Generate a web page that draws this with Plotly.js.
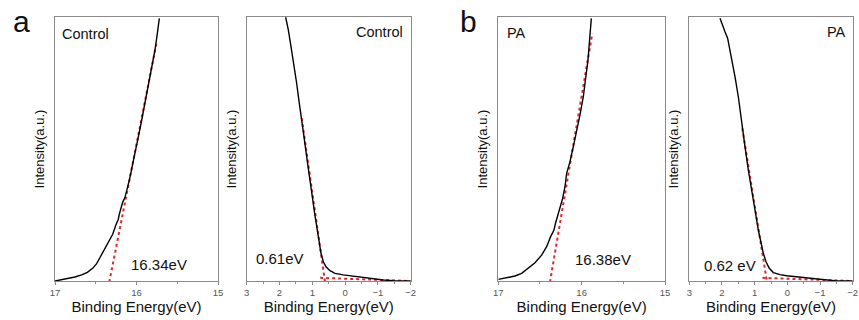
<!DOCTYPE html>
<html><head><meta charset="utf-8">
<script src="https://cdn.plot.ly/plotly-3.0.1.min.js"></script>
<style>body{margin:0;background:#fff}#c{width:859px;height:320px}</style>
</head><body><div id="c"></div>
<script>
// Panel a-left: secondary electron cutoff (Control)
const ctlCutX = [17.0, 16.918, 16.836, 16.755, 16.673, 16.603, 16.538, 16.489, 16.448, 16.399, 16.346, 16.292, 16.252, 16.223, 16.211, 16.194, 16.170, 16.141, 16.112, 16.084, 16.051, 16.014, 15.978, 15.937, 15.892, 15.847, 15.810, 15.773, 15.744, 15.720];
const ctlCutY = [0.0, 0.005, 0.010, 0.015, 0.023, 0.033, 0.048, 0.066, 0.089, 0.117, 0.146, 0.177, 0.213, 0.234, 0.253, 0.273, 0.298, 0.317, 0.349, 0.387, 0.437, 0.488, 0.545, 0.608, 0.678, 0.754, 0.817, 0.875, 0.938, 0.995];
const ctlCutFitX = [16.334, 15.752];
const ctlCutFitY = [-0.004, 0.906];
// Panel a-right: valence band (Control)
const ctlVbX = [1.812, 1.731, 1.649, 1.558, 1.477, 1.396, 1.324, 1.253, 1.172, 1.091, 1.009, 0.928, 0.847, 0.786, 0.735, 0.664, 0.582, 0.460, 0.308, 0.054, -0.251, -0.556, -0.861, -1.166, -1.470, -1.999];
const ctlVbY = [0.999, 0.951, 0.888, 0.818, 0.749, 0.673, 0.616, 0.547, 0.471, 0.395, 0.319, 0.256, 0.193, 0.143, 0.105, 0.073, 0.054, 0.039, 0.029, 0.023, 0.018, 0.013, 0.009, 0.004, 0.001, 0.0];
const ctlVbFitX = [1.323, 0.61];
const ctlVbFitY = [0.617, -0.006];
const ctlVbBaseX = [0.76, -2.0];
const ctlVbBaseY = [0.012, 0.0];
// Panel b-left: secondary electron cutoff (PA)
const paCutX = [17.0, 16.900, 16.800, 16.720, 16.640, 16.560, 16.480, 16.420, 16.372, 16.332, 16.316, 16.300, 16.268, 16.228, 16.200, 16.180, 16.140, 16.100, 16.060, 16.020, 15.980, 15.948, 15.924, 15.908, 15.896, 15.884];
const paCutY = [0.006, 0.013, 0.019, 0.029, 0.048, 0.069, 0.098, 0.130, 0.168, 0.193, 0.216, 0.231, 0.269, 0.313, 0.357, 0.408, 0.452, 0.509, 0.566, 0.629, 0.698, 0.768, 0.837, 0.900, 0.951, 0.995];
const paCutFitX = [16.38, 15.872];
const paCutFitY = [-0.004, 0.938];
// Panel b-right: valence band (PA)
const paVbX = [2.061, 1.979, 1.908, 1.826, 1.755, 1.673, 1.602, 1.500, 1.398, 1.296, 1.194, 1.092, 0.990, 0.888, 0.806, 0.735, 0.653, 0.551, 0.429, 0.224, 0.021, -0.285, -0.591, -0.897, -1.203, -1.509, -2.0];
const paVbY = [0.995, 0.963, 0.944, 0.919, 0.875, 0.825, 0.774, 0.698, 0.597, 0.509, 0.420, 0.338, 0.269, 0.193, 0.143, 0.105, 0.073, 0.048, 0.032, 0.024, 0.020, 0.016, 0.014, 0.009, 0.004, 0.0, 0.0];
const paVbFitX = [1.378, 0.62];
const paVbFitY = [0.578, -0.006];
const paVbBaseX = [0.76, -2.0];
const paVbBaseY = [0.012, 0.0];

const labels = ['Control', 'Control', 'PA', 'PA'];
const values = ['16.34eV', '0.61eV', '16.38eV', '0.62 eV'];
const panelLetters = ['a', 'b'];
const cutTicks = [17, 16, 15];
const vbTicks = [3, 2, 1, 0, -1, -2];

const black = {color: '#000', width: 1.4};
const red = {color: '#e0262b', width: 2, dash: 'dot'};
function tr(x, y, ax, line) {
  return {x: x, y: y, xaxis: 'x' + ax, yaxis: 'y' + ax, mode: 'lines', line: line, hoverinfo: 'skip', showlegend: false, cliponaxis: false};
}
const data = [
  tr(ctlCutFitX, ctlCutFitY, '', red), tr(ctlCutX, ctlCutY, '', black),
  tr(ctlVbFitX, ctlVbFitY, '2', red), tr(ctlVbBaseX, ctlVbBaseY, '2', red), tr(ctlVbX, ctlVbY, '2', black),
  tr(paCutFitX, paCutFitY, '3', red), tr(paCutX, paCutY, '3', black),
  tr(paVbFitX, paVbFitY, '4', red), tr(paVbBaseX, paVbBaseY, '4', red), tr(paVbX, paVbY, '4', black)
];

const W = 859, H = 320;
const dx = [[55, 218], [246.7, 410.7], [498.3, 665], [689.3, 852.7]].map(d => [d[0] / W, d[1] / W]);
const dy = [1 - 281 / H, 1 - 17 / H];
const font = 'Liberation Sans, Arial, sans-serif';

function xax(i, range, ticks) {
  return {
    domain: dx[i], range: range, anchor: i === 0 ? 'y' : 'y' + (i + 1),
    tickvals: ticks, ticks: 'outside', ticklen: 3, tickcolor: '#888', tickwidth: 1,
    minor: {dtick: 0.5, ticks: 'outside', ticklen: 2, tickcolor: '#888'},
    showline: true, mirror: true, linecolor: '#8a8a8a', linewidth: 1,
    showgrid: false, zeroline: false,
    tickfont: {family: font, size: 9.5, color: '#555'},
    title: {text: 'Binding Energy(eV)', font: {family: font, size: 15, color: '#111'}, standoff: 4}
  };
}
function yax(i) {
  return {
    domain: dy, range: [0, 1], anchor: i === 0 ? 'x' : 'x' + (i + 1),
    showticklabels: false, ticks: '', showgrid: false, zeroline: false,
    showline: true, mirror: true, linecolor: '#8a8a8a', linewidth: 1,
    title: {text: 'Intensity(a.u.)', font: {family: font, size: 13, color: '#111'}, standoff: 6}
  };
}

const ann = [];
function tx(xref, yref, x, y, text, xanchor, size) {
  ann.push({xref: xref, yref: yref, x: x, y: y, text: text, showarrow: false, xanchor: xanchor, yanchor: 'middle',
    font: {family: font, size: size || 14.5, color: '#111'}});
}
// panel letters
tx('paper', 'paper', 11 / W, 1 - 22 / H, panelLetters[0], 'left', 30);
tx('paper', 'paper', 458 / W, 1 - 22 / H, panelLetters[1], 'left', 30);
// sample labels
tx('x domain', 'y domain', (60 - 55) / 163, 1 - (34 - 17) / 264, labels[0], 'left');
tx('x2 domain', 'y2 domain', 1 - (410.7 - 405) / 164, 1 - (32 - 17) / 264, labels[1], 'right');
tx('x3 domain', 'y3 domain', (505 - 498.3) / 166.7, 1 - (33 - 17) / 264, labels[2], 'left');
tx('x4 domain', 'y4 domain', 1 - (852.7 - 848) / 163.4, 1 - (32 - 17) / 264, labels[3], 'right');
// values
tx('x domain', 'y domain', (158.5 - 55) / 163, (281 - 264) / 264, values[0], 'center', 15);
tx('x2 domain', 'y2 domain', (280 - 246.7) / 164, (281 - 258) / 264, values[1], 'center', 15);
tx('x3 domain', 'y3 domain', (603 - 498.3) / 166.7, (281 - 259) / 264, values[2], 'center', 15);
tx('x4 domain', 'y4 domain', (730 - 689.3) / 163.4, (281 - 265) / 264, values[3], 'center', 15);

const layout = {
  width: W, height: H, margin: {l: 0, r: 0, t: 0, b: 0},
  paper_bgcolor: '#fff', plot_bgcolor: '#fff', showlegend: false,
  xaxis: xax(0, [17, 15], cutTicks), yaxis: yax(0),
  xaxis2: xax(1, [3, -2], vbTicks), yaxis2: yax(1),
  xaxis3: xax(2, [17, 15], cutTicks), yaxis3: yax(2),
  xaxis4: xax(3, [3, -2], vbTicks), yaxis4: yax(3),
  annotations: ann
};
Plotly.newPlot('c', data, layout, {displayModeBar: false, staticPlot: true});
</script></body></html>
